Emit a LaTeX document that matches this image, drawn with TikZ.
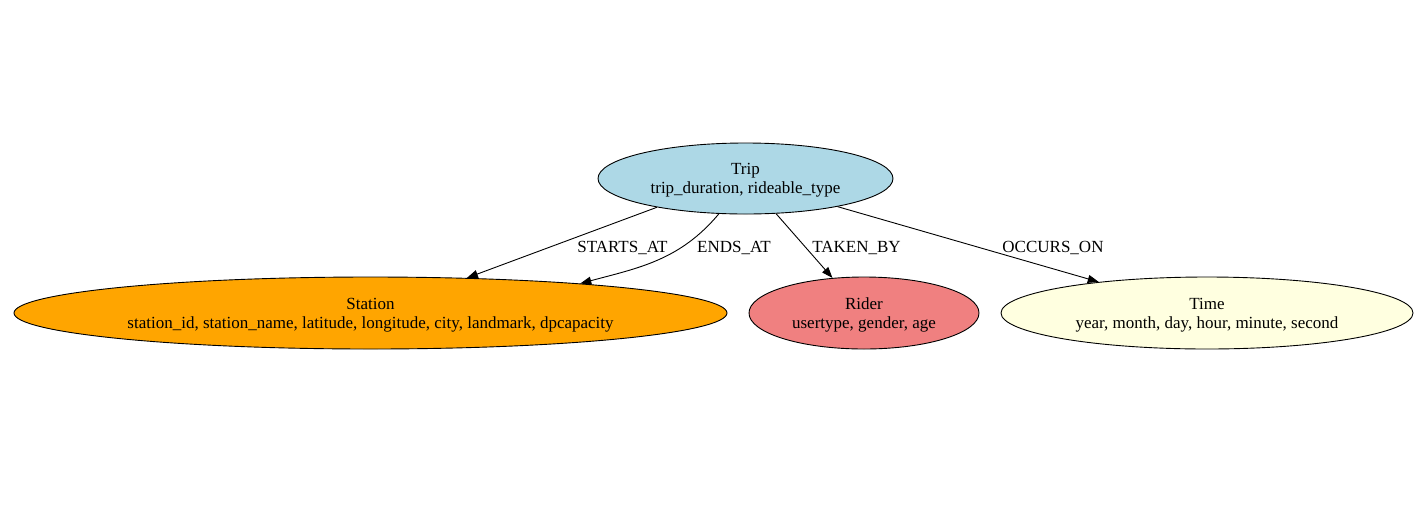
\documentclass[tikz,border=0pt]{standalone}
\usepackage{fontspec}
\setmainfont{Liberation Serif}
\usetikzlibrary{shapes.geometric,arrows.meta}
\definecolor{tripc}{HTML}{ADD8E6}
\definecolor{stationc}{HTML}{FFA500}
\definecolor{riderc}{HTML}{F08080}
\definecolor{timec}{HTML}{FFFFE0}
\newcommand\entstrut{\rule{0pt}{15.6pt}}
\tikzset{
  ent/.style={ellipse, draw=black, line width=0.9pt, inner sep=0pt, align=center,
    font=\fontsize{17}{19}\selectfont},
  lbl/.style={anchor=base, inner sep=0pt, font=\fontsize{17}{19}\selectfont},
  arr/.style={draw=black, line width=0.9pt, -{Triangle[length=11pt,width=8pt]}}
}
\begin{document}
\begin{tikzpicture}[x=1pt,y=-1pt]
\useasboundingbox[fill=white] (0,0) rectangle (1427,507);
\node[ent, fill=tripc, minimum width=295, minimum height=71] (trip) at (745.5,178.5) {\entstrut Trip\\trip\_duration, rideable\_type};
\node[ent, fill=stationc, minimum width=713, minimum height=72] (station) at (370.5,313) {\entstrut Station\\station\_id, station\_name, latitude, longitude, city, landmark, dpcapacity};
\node[ent, fill=riderc, minimum width=230, minimum height=72] (rider) at (864,313) {\entstrut Rider\\usertype, gender, age};
\node[ent, fill=timec, minimum width=412, minimum height=72] (time) at (1207,313) {\entstrut Time\\year, month, day, hour, minute, second};

\draw[arr] (trip.198.4) -- (station.20.6);
\draw[arr] (trip.233.3) to[out=230,in=15] (station.8.2);
\draw[arr] (trip.311.6) -- (rider.132.4);
\draw[arr] (trip.343.2) -- (time.164.3);

\node[lbl] (l1) at (622.5,252.5) {STARTS\_AT};
\node[lbl] (l2) at (734,252.5) {ENDS\_AT};
\node[lbl] (l3) at (856.5,252.5) {TAKEN\_BY};
\node[lbl] (l4) at (1053,252.5) {OCCURS\_ON};
\end{tikzpicture}
\end{document}
